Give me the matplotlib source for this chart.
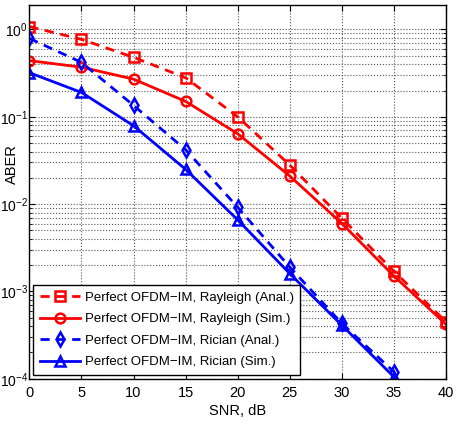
import numpy as np
import matplotlib.pyplot as plt
from matplotlib.ticker import LogLocator, NullFormatter

plt.rcParams['font.family'] = ['Liberation Sans', 'DejaVu Sans']
plt.rcParams['mathtext.fontset'] = 'custom'
plt.rcParams['mathtext.rm'] = 'Liberation Sans'

snr = [0, 5, 10, 15, 20, 25, 30, 35, 40]
snr_rician = [0, 5, 10, 15, 20, 25, 30, 35]

rayleigh_anal = [1.08, 0.77, 0.48, 0.28, 0.10, 0.028, 0.0069, 0.0017, 0.00045]
rayleigh_sim = [0.44, 0.37, 0.27, 0.15, 0.064, 0.021, 0.0060, 0.0015, 0.00042]
rician_anal = [0.79, 0.42, 0.135, 0.042, 0.0092, 0.0019, 0.00043, 0.00012]
rician_sim = [0.32, 0.19, 0.079, 0.025, 0.0066, 0.0016, 0.00041, 0.000105]

labels = ['Perfect OFDM\u2212IM, Rayleigh (Anal.)',
          'Perfect OFDM\u2212IM, Rayleigh (Sim.)',
          'Perfect OFDM\u2212IM, Rician (Anal.)',
          'Perfect OFDM\u2212IM, Rician (Sim.)']

fig, ax = plt.subplots(figsize=(4.74, 4.28), dpi=100)
fig.subplots_adjust(left=0.062, right=0.941, top=0.988, bottom=0.115)

red = '#ff0000'
blue = '#0000ff'
kw = dict(linewidth=2, markersize=7, markerfacecolor='none', markeredgewidth=1.8)

ax.semilogy(snr, rayleigh_anal, '--s', color=red, label=labels[0], dashes=(3.3, 2.4), **kw)
ax.semilogy(snr, rayleigh_sim, '-o', color=red, label=labels[1], **kw)
ax.semilogy(snr_rician, rician_anal, '--d', color=blue, label=labels[2], dashes=(3.3, 2.4), **kw)
ax.semilogy(snr_rician, rician_sim, '-^', color=blue, label=labels[3], **kw)

ax.set_xlim(0, 40)
ax.set_ylim(1e-4, 1.9)
ax.set_xticks(range(0, 41, 5))
ax.yaxis.set_major_locator(LogLocator(base=10, numticks=10))
ax.yaxis.set_minor_locator(LogLocator(base=10, subs=np.arange(2, 10), numticks=20))
ax.yaxis.set_minor_formatter(NullFormatter())

ax.grid(True, which='major', linestyle=':', color='#555555', linewidth=0.8)
ax.grid(True, which='minor', axis='y', linestyle=':', color='#555555', linewidth=0.8)

ax.tick_params(which='both', direction='in', top=True, right=True)
ax.tick_params(axis='x', labelsize=10.5, pad=5)
ax.tick_params(axis='y', labelsize=10, pad=1)
ax.tick_params(which='major', length=4)
ax.tick_params(which='minor', length=2)
for s in ax.spines.values():
    s.set_linewidth(1.0)

ax.set_xlabel('SNR, dB', fontsize=10.5, labelpad=3)
ax.set_ylabel('ABER', fontsize=10.5)
ax.yaxis.set_label_coords(-0.026, 0.575)

leg = ax.legend(loc='lower left', fontsize=9.5, fancybox=False, edgecolor='black',
                framealpha=1, borderaxespad=0.3, handlelength=3.0,
                labelspacing=0.7, handletextpad=0.4, borderpad=0.5)
leg.get_frame().set_linewidth(1.0)

fig.savefig('out.png', dpi=100)
